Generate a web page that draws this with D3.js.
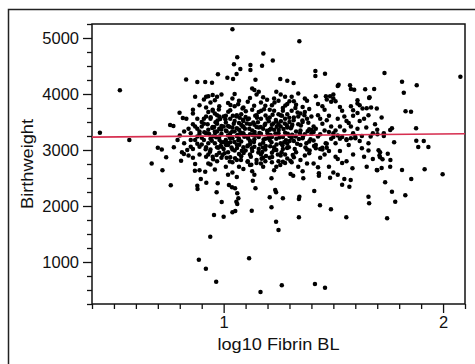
<!DOCTYPE html>
<html>
<head>
<meta charset="utf-8">
<script src="https://cdn.jsdelivr.net/npm/d3@7"></script>
<style>
  body { margin: 0; background: #fff; overflow: hidden; }
  text { font-family: "Liberation Sans", Arial, sans-serif; fill: #111; }
</style>
</head>
<body>
<script>
const width = 475, height = 364;

// axis settings
const xMajor = [1, 2];
const yMajor = [1000, 2000, 3000, 4000, 5000];
const fitLine = [[0.4, 3230], [2.1, 3290]];

// sparse points away from the core: [log10 fibrin, birthweight]
const outerPoints = [
  [0.436,3310],[0.527,4065],[0.570,3180],[0.686,3305],[0.672,2760],[0.700,3040],[0.718,3010],[0.721,2640],
  [0.738,2870],[0.759,2370],[0.756,3445],[0.771,3430],[0.773,3050],[0.799,3665],[0.814,3570],[0.806,2810],
  [0.819,2930],[0.829,4260],[0.834,3000],
  [1.040,5155],[1.345,4940],[1.181,4725],[1.224,4600],[1.062,4655],[1.047,4530],[1.122,4518],[1.122,4428],
  [1.175,4506],[1.076,4446],[1.059,4357],[0.974,4351],[1.017,4292],[1.043,4268],[0.880,4214],[0.916,4214],
  [0.947,4202],[1.145,4256],[1.258,4268],[1.290,4238],[1.319,4196],[1.418,4410],[1.418,4321],[1.462,4363],
  [1.733,4375],[1.813,4220],[1.821,4024],[1.880,4155],[2.079,4310],[1.524,4167],[1.520,4143],[1.576,4155],
  [1.595,4077],[1.645,4083],[1.663,3929],[1.829,3690],[1.854,3684],[1.877,3387],[1.878,3167],[1.887,3054],
  [1.912,3161],[1.933,3054],[1.916,2655],[1.998,2565],[1.855,2482],[1.828,2190],[1.813,2643],[1.782,2077],
  [1.767,2256],[1.745,1780],[1.736,2423],[1.759,2702],[1.748,2935],[1.777,3137],[1.767,3387],[1.759,3357],
  [1.701,3280],[1.706,2994],[1.713,2958],[1.713,2869],[1.724,2833],[1.698,2643],[1.652,2702],[1.660,2167],
  [1.663,2048],[1.559,1798],[1.573,2345],[1.579,2464],[1.587,2673],[1.489,1941],[1.439,2012],[1.434,2583],
  [1.434,2542],[1.485,2506],[1.413,2268],[1.343,1798],[1.345,2167],[1.343,2125],[1.363,2494],[1.305,2571],
  [1.317,2542],[1.239,1720],[1.250,1571],[1.270,2137],[1.235,2286],[1.239,2244],[1.218,2494],[1.210,2155],
  [1.218,1976],[1.128,1917],[1.145,2316],[1.133,2452],[1.062,2226],[1.067,2137],[1.058,2077],[1.062,2036],
  [1.040,1887],[1.053,1911],[1.000,1810],[0.956,1839],[0.991,2071],[0.968,2244],[0.973,2405],[1.024,2375],
  [1.038,2333],[1.052,2316],[0.921,2417],[0.881,2304],[0.880,2363],[0.896,2482],[0.916,2613],[0.869,2631],
  [0.939,1452],[0.887,1042],[0.919,881],[0.966,649],[1.116,1066],[1.168,464],[1.265,583],[1.416,607],[1.462,542]
];

// dense core of the cloud, left part (0.78 - 1.10)
const coreLeft = [
  [0.80,3260],[0.82,3120],[0.84,3380],[0.83,3560],[0.81,2960],[0.85,3060],[0.79,3180],[0.84,2900],[0.86,3720],[0.82,3330],
  [0.86,3460],[0.87,3420],[0.85,3180],[0.88,3240],[0.86,3020],[0.89,2920],[0.87,2750],[0.88,3560],[0.89,3330],[0.86,3650],
  [0.88,3110],[0.89,3800],[0.87,3950],[0.85,3300],[0.89,3060],[0.86,2860],[0.88,3380],[0.90,3500],[0.87,3180],[0.89,2640],
  [0.93,3360],[0.96,3120],[0.90,3420],[0.98,2950],[0.94,3560],[0.91,3180],[0.99,3290],[0.95,2880],[0.92,3050],[0.97,3470],
  [0.89,3290],[0.96,3650],[0.94,3010],[0.99,3140],[0.92,3300],[0.98,3600],[0.90,3220],[0.95,3240],[0.97,2800],[0.93,3120],
  [0.98,3380],[0.91,3470],[0.96,3330],[0.94,2740],[0.99,3430],[0.92,3600],[0.97,3050],[0.95,3410],[0.93,2920],[0.99,2860],
  [0.96,3890],[0.97,3950],[0.94,3850],[0.98,3780],[0.91,3900],[0.95,3700],[0.92,3760],[0.99,3990],[0.93,3680],[0.96,2650],
  [0.92,3950],[0.93,3960],[0.95,3980],[0.91,3560],[0.94,3200],[0.90,3100],[0.92,2880],[0.93,2760],[0.95,3720],[0.97,3620],
  [1.01,3350],[1.04,3210],[1.07,3480],[1.02,3090],[1.09,3300],[1.05,2990],[1.03,3560],[1.08,3150],[1.06,3390],[1.00,3020],
  [1.02,3260],[1.06,3100],[1.09,3520],[1.04,3400],[1.01,3180],[1.07,2930],[1.03,2870],[1.08,3640],[1.05,3330],[1.10,3250],
  [1.03,3710],[1.06,3620],[1.01,3490],[1.09,3050],[1.04,2780],[1.07,3200],[1.02,3430],[1.08,2890],[1.05,3520],[1.00,3140],
  [1.04,3010],[1.07,3360],[1.02,2960],[1.09,3420],[1.06,3250],[1.01,2700],[1.05,3780],[1.08,3300],[1.03,3140],[1.10,2990],
  [1.02,3840],[1.07,3880],[1.05,4000],[1.09,3760],[1.04,3920],[1.06,2820],[1.01,3610],[1.08,3450],[1.03,3300],[1.10,3590],
  [1.04,2600],[1.07,2700],[1.02,2560],[1.09,2660],[1.06,2520],[0.98,3240],[1.00,3420],[0.97,3330],[0.99,3060],[1.00,3600]
];

// dense core, middle part (1.10 - 1.40)
const coreMiddle = [
  [1.12,3280],[1.15,3410],[1.18,3130],[1.11,3550],[1.16,3020],[1.13,3350],[1.19,3470],[1.14,3190],[1.17,3290],[1.12,2920],
  [1.15,3620],[1.11,3080],[1.18,3380],[1.13,3720],[1.16,3230],[1.19,3010],[1.14,3450],[1.12,3160],[1.17,3560],[1.20,3300],
  [1.13,2980],[1.16,3400],[1.11,3240],[1.18,2860],[1.14,3060],[1.17,2920],[1.12,3460],[1.19,3200],[1.15,2820],[1.20,3560],
  [1.13,4100],[1.14,4070],[1.15,3990],[1.16,4040],[1.12,3930],[1.17,3850],[1.18,3940],[1.11,3860],[1.19,3790],[1.16,3680],
  [1.12,2730],[1.15,2770],[1.18,2700],[1.13,2620],[1.17,2760],[1.11,2800],[1.14,2560],[1.19,2800],
  [1.22,3450],[1.25,3300],[1.28,3560],[1.21,3180],[1.26,3620],[1.23,3050],[1.29,3400],[1.24,3510],[1.27,3230],[1.21,3360],
  [1.26,3120],[1.23,3700],[1.28,3310],[1.22,2950],[1.29,3640],[1.25,3460],[1.24,3200],[1.27,3020],[1.30,3500],[1.21,3580],
  [1.23,3360],[1.28,2920],[1.26,3420],[1.22,3230],[1.29,3110],[1.25,3640],[1.27,3750],[1.24,3000],[1.21,2860],[1.30,3250],
  [1.22,3800],[1.25,3880],[1.28,3950],[1.23,3920],[1.26,3990],[1.29,3820],[1.24,4040],[1.27,3700],[1.21,3720],[1.30,3870],
  [1.22,2780],[1.25,2800],[1.27,2790],[1.24,2700],[1.29,2850],[1.23,2640],[1.26,2900],[1.28,2770],
  [1.31,3420],[1.34,3600],[1.37,3280],[1.32,3160],[1.36,3500],[1.33,3330],[1.39,3370],[1.35,3090],[1.38,3560],[1.31,3220],
  [1.34,3460],[1.37,3680],[1.32,3580],[1.36,3210],[1.33,2960],[1.39,3150],[1.35,3350],[1.38,3010],[1.31,3700],[1.40,3290],
  [1.33,3810],[1.36,3770],[1.31,3950],[1.38,3880],[1.34,4010],[1.39,3730],[1.35,3650],[1.32,3870],[1.37,3920],[1.40,3600],
  [1.32,2870],[1.35,2820],[1.38,2760],[1.34,2700],[1.37,2900],[1.31,2780],[1.39,2940],[1.36,2620]
];

// densest band, read as a second pass over the blob
const coreDense = [
  [0.934,3287],[0.957,3412],[0.981,3178],[1.013,3334],[1.046,3467],[1.071,3092],[1.094,3236],[1.117,3381],[1.138,3145],[1.163,3302],
  [1.187,3448],[1.212,3067],[1.236,3296],[1.261,3512],[1.284,3174],[1.306,3389],[1.328,3241],[1.352,3436],[1.377,3119],[1.401,3358],
  [0.918,3012],[0.946,3164],[0.972,3528],[1.004,2941],[1.029,3213],[1.058,3596],[1.083,2987],[1.106,3471],[1.129,3032],[1.152,3577],
  [1.176,2964],[1.198,3344],[1.223,3628],[1.247,2918],[1.273,3376],[1.297,3047],[1.319,3533],[1.343,3196],[1.368,3621],[1.392,2989],
  [0.927,3461],[0.952,2836],[0.989,3368],[1.021,3682],[1.052,2853],[1.077,3314],[1.101,3694],[1.124,2881],[1.147,3259],[1.171,3702],
  [1.193,2893],[1.218,3138],[1.242,3417],[1.268,3086],[1.292,3289],[1.315,2911],[1.337,3668],[1.361,3232],[1.386,3487],[1.412,3071],
  [0.941,3583],[0.966,3226],[0.995,2912],[1.008,3547],[1.036,3044],[1.064,3268],[1.088,3542],[1.112,3207],[1.135,3489],[1.158,2954],
  [1.182,3187],[1.206,3513],[1.229,2997],[1.254,3223],[1.279,3471],[1.301,3162],[1.324,3018],[1.348,3297],[1.373,3044],[1.396,3192],
  [0.912,3318],[0.938,2967],[0.963,3497],[0.986,3071],[1.017,3126],[1.042,3611],[1.067,3176],[1.091,2946],[1.115,3563],[1.141,3323],
  [1.166,3096],[1.191,3614],[1.214,3269],[1.238,3537],[1.264,2961],[1.288,3444],[1.312,3273],[1.335,3112],[1.359,3526],[1.383,3333],
  [0.948,3392],[0.975,3041],[1.026,3417],[1.049,3142],[1.073,3574],[1.097,3381],[1.121,3109],[1.144,3613],[1.169,3411],[1.192,3073],
  [1.216,3384],[1.241,3098],[1.266,3611],[1.289,3036],[1.313,3451],[0.961,3302],[0.984,3553],[1.011,3089],[1.039,3329],[1.061,3037],
  [1.086,3418],[1.109,3067],[1.132,3268],[1.156,3497],[1.179,3046],[1.203,3213],[1.227,3471],[1.251,3357],[1.276,3138],[1.299,3574],
  [1.028,2794],[1.079,2822],[1.126,2735],[1.173,2842],[1.221,2877],[1.258,2734],[1.304,2806],[0.968,2911],[1.014,2862],[1.109,2788],
  [1.031,3802],[1.086,3741],[1.139,3792],[1.184,3728],[1.232,3846],[1.281,3793],[1.327,3752],[0.978,3722],[1.066,3818],[1.198,3896]
];

// dense core, right part (1.40 - 1.75)
const coreRight = [
  [1.41,3420],[1.44,3280],[1.47,3530],[1.42,3090],[1.46,3350],[1.43,3620],[1.49,3200],[1.45,3470],[1.48,3320],[1.41,3170],
  [1.44,3560],[1.47,3040],[1.42,3380],[1.46,3720],[1.43,3240],[1.49,3420],[1.45,3010],[1.48,3610],[1.41,3320],[1.50,3300],
  [1.43,3820],[1.47,3900],[1.45,3780],[1.42,3960],[1.49,3860],[1.44,2860],[1.46,2920],[1.41,2760],[1.48,2980],[1.43,2690],
  [1.45,3040],[1.42,3030],[1.44,3020],
  [1.51,3350],[1.54,3230],[1.57,3480],[1.52,3560],[1.56,3180],[1.53,3420],[1.59,3300],[1.55,3600],[1.58,3210],[1.51,3120],
  [1.54,3700],[1.57,3090],[1.52,3260],[1.56,3520],[1.53,2980],[1.59,3610],[1.55,3350],[1.58,3420],[1.51,2880],[1.60,3230],
  [1.50,3990],[1.50,3920],[1.51,3870],[1.58,3780],[1.53,3770],[1.56,2800],[1.52,2840],[1.59,2920],[1.54,2770],
  [1.61,3890],[1.61,3830],[1.62,3800],[1.665,3940],[1.686,4090],[1.633,3740],[1.652,3745],[1.672,3760],[1.698,3740],
  [1.62,3520],[1.65,3400],[1.68,3300],[1.63,3250],[1.66,3120],[1.64,3560],[1.69,3460],[1.67,3240],[1.62,3160],[1.70,3360],
  [1.64,2880],[1.68,2840],[1.71,2900],[1.63,3030],[1.73,3250],[1.66,2990],[1.61,3380],[1.66,3620],[1.72,3580],
  [1.466,3960],[1.485,3960],[1.58,4090],[1.59,3710],[1.61,3660],[1.465,3120],[1.47,3110],[1.50,3230],[1.53,3200],
  [1.56,3190],[1.60,3210],[1.48,2700],[1.50,2600],[1.52,2560],[1.55,2480],[1.54,2380],[1.70,2640],[1.72,2680],[1.76,2820],[1.73,3300]
];

const points = outerPoints.concat(coreLeft, coreMiddle, coreDense, coreRight);

const margin = { left: 92, top: 24, right: 465, bottom: 304 };

const svg = d3.select("body").append("svg")
  .attr("width", width)
  .attr("height", height);

// outer frame (runs off the right and bottom edges in the picture)
svg.append("rect")
  .attr("x", 8.5).attr("y", 9.5)
  .attr("width", 480).attr("height", 370)
  .attr("fill", "none")
  .attr("stroke", "#222")
  .attr("stroke-width", 1.5);

const x = d3.scaleLinear().domain([0.4, 2.1]).range([margin.left, margin.right]);
const y = d3.scaleLinear().domain([250, 5250]).range([margin.bottom, margin.top]);

// minor ticks first
svg.append("g")
  .attr("transform", `translate(${margin.left},0)`)
  .call(d3.axisLeft(y).tickValues(d3.range(250, 5251, 250).filter(d => d % 1000 !== 0)).tickSize(5).tickFormat(""))
  .call(g => g.select(".domain").remove());

svg.append("g")
  .attr("transform", `translate(0,${margin.bottom})`)
  .call(d3.axisBottom(x).tickValues(d3.range(4, 22).map(d => d / 10).filter(d => d !== 1 && d !== 2)).tickSize(5).tickFormat(""))
  .call(g => g.select(".domain").remove());

// major ticks with labels
svg.append("g")
  .attr("transform", `translate(${margin.left},0)`)
  .call(d3.axisLeft(y).tickValues(yMajor).tickSize(9).tickPadding(4).tickFormat(d3.format("d")))
  .call(g => g.select(".domain").remove())
  .selectAll("text").attr("font-size", 16.5).attr("font-family", null);

svg.append("g")
  .attr("transform", `translate(0,${margin.bottom})`)
  .call(d3.axisBottom(x).tickValues(xMajor).tickSize(9).tickPadding(3).tickFormat(d3.format("d")))
  .call(g => g.select(".domain").remove())
  .selectAll("text").attr("font-size", 16.5).attr("font-family", null);

svg.selectAll(".tick line").attr("stroke", "#111").attr("stroke-width", 1.3);

// plot frame
svg.append("rect")
  .attr("x", margin.left).attr("y", margin.top)
  .attr("width", margin.right - margin.left).attr("height", margin.bottom - margin.top)
  .attr("fill", "none")
  .attr("stroke", "#111")
  .attr("stroke-width", 1.5);

// dots
svg.append("g")
  .selectAll("circle")
  .data(points)
  .join("circle")
  .attr("cx", d => x(d[0]))
  .attr("cy", d => y(d[1]))
  .attr("r", 2.25)
  .attr("fill", "#000");

// fit line
svg.append("line")
  .attr("x1", x(fitLine[0][0])).attr("y1", y(fitLine[0][1]))
  .attr("x2", x(fitLine[1][0])).attr("y2", y(fitLine[1][1]))
  .attr("stroke", "#d62d4f")
  .attr("stroke-width", 1.6);

// axis titles
svg.append("text")
  .attr("x", (margin.left + margin.right) / 2)
  .attr("y", 350)
  .attr("text-anchor", "middle")
  .attr("font-size", 17)
  .attr("textLength", 122)
  .attr("lengthAdjust", "spacingAndGlyphs")
  .text("log10 Fibrin BL");

svg.append("text")
  .attr("transform", `translate(33,${(margin.top + margin.bottom) / 2}) rotate(-90)`)
  .attr("text-anchor", "middle")
  .attr("font-size", 17)
  .attr("textLength", 90)
  .attr("lengthAdjust", "spacingAndGlyphs")
  .text("Birthweight");
</script>
</body>
</html>
